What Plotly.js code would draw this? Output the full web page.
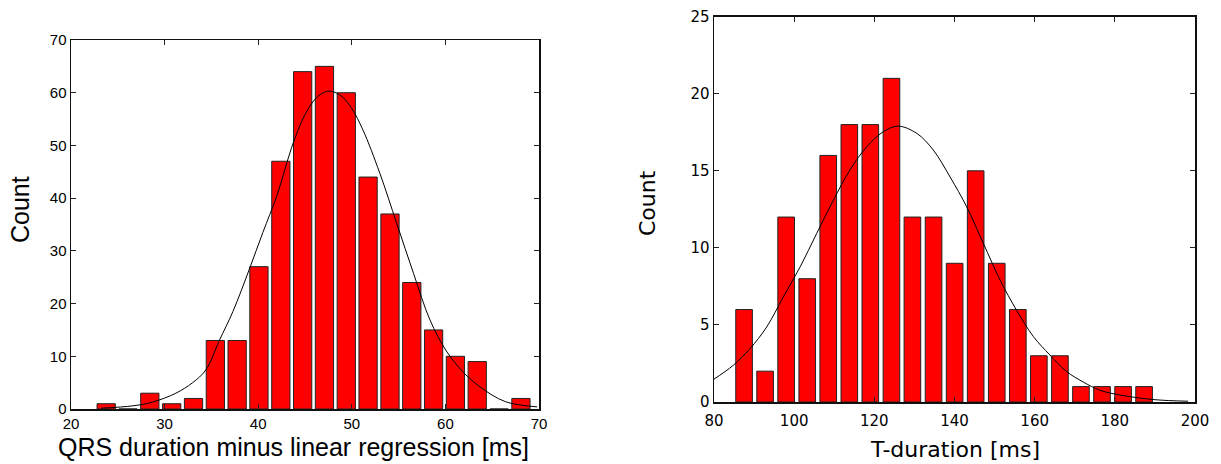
<!DOCTYPE html>
<html>
<head>
<meta charset="utf-8">
<script src="https://cdn.plot.ly/plotly-3.0.1.min.js"></script>
<style>
  html, body { margin: 0; padding: 0; background: #ffffff; }
  #chart { width: 1221px; height: 464px; }
</style>
</head>
<body>
<div id="chart"></div>
<script>
// ---- Left panel: QRS duration minus linear regression ----
const qrsBinCenters = [23.76, 26.09, 28.42, 30.76, 33.09, 35.42, 37.75, 40.08, 42.42, 44.75,
                       47.08, 49.41, 51.74, 54.08, 56.41, 58.74, 61.07, 63.40, 65.74, 68.07];
const qrsCounts = [1, 0, 3, 1, 2, 13, 13, 27, 47, 64, 65, 60, 44, 37, 24, 15, 10, 9, 0, 2];
const qrsFitX = [23.2, 26.6, 28.7, 31.2, 33.0, 34.4, 35.85, 37.3, 39.05, 40.5, 42.0, 43.75, 45.2,
                 46.5, 47.7, 49.0, 50.0, 51.2, 53.0, 54.8, 56.6, 58.35, 60.1, 61.9, 63.7, 66.4, 69.8];
const qrsFitY = [0.15, 0.6, 1.3, 3.0, 5.0, 7.4, 13.0, 18.5, 26.5, 33.5, 40.5, 50.5, 56.5,
                 59.5, 60.3, 59.2, 57.0, 52.9, 44.7, 35.2, 25.7, 16.9, 11.0, 7.0, 4.2, 1.4, 0.4];
const qrsXTitle = "QRS duration minus linear regression [ms]";

// ---- Right panel: T-duration ----
const tBinCenters = [87.5, 92.75, 98.0, 103.26, 108.5, 113.76, 119.0, 124.27, 129.5, 134.78,
                     140.03, 145.28, 150.54, 155.8, 161.04, 166.3, 171.55, 176.8, 182.06, 187.3];
const tCounts = [6, 2, 12, 8, 16, 18, 18, 21, 12, 12, 9, 15, 9, 6, 3, 3, 1, 1, 1, 1];
const tFitX = [79.8, 84.8, 89.0, 93.15, 97.3, 101.5, 105.6, 109.8, 113.9, 118.1, 122.2, 125.9,
               130.6, 134.7, 138.9, 143.05, 147.2, 151.4, 155.5, 159.7, 163.8, 168.0, 172.1,
               176.3, 181.8, 190.0, 198.3];
const tFitY = [1.45, 2.38, 3.47, 4.87, 6.82, 8.77, 10.93, 13.1, 15.05, 16.56, 17.53, 17.9,
               17.43, 16.35, 14.6, 12.66, 10.29, 7.9, 5.95, 4.24, 3.05, 1.97, 1.3,
               0.76, 0.43, 0.15, 0.05];
const tXTitle = "T-duration [ms]";
const yTitle = "Count";

const W = 1221, H = 464;
const fx = px => px / W;
const fy = py => 1 - py / H;

const barStyle = { color: '#ff0000', line: { color: '#222222', width: 1 } };

const traces = [
  { type: 'bar', x: qrsBinCenters, y: qrsCounts, width: 1.95, marker: barStyle,
    xaxis: 'x', yaxis: 'y', hoverinfo: 'skip' },
  { type: 'scatter', mode: 'lines', x: qrsFitX, y: qrsFitY,
    line: { color: '#000000', width: 1, shape: 'spline' }, xaxis: 'x', yaxis: 'y', hoverinfo: 'skip' },
  { type: 'bar', x: tBinCenters, y: tCounts, width: 4.15, marker: barStyle,
    xaxis: 'x2', yaxis: 'y2', hoverinfo: 'skip' },
  { type: 'scatter', mode: 'lines', x: tFitX, y: tFitY,
    line: { color: '#000000', width: 1, shape: 'spline' }, xaxis: 'x2', yaxis: 'y2', hoverinfo: 'skip' }
];

const leftFont = { family: 'Liberation Sans, Arial, sans-serif', size: 15, color: '#000' };
const rightFont = { family: 'DejaVu Sans, Verdana, sans-serif', size: 15, color: '#000' };

function axisBase(font) {
  return {
    showgrid: false, zeroline: false, showline: true, linecolor: '#111', linewidth: 1.5,
    mirror: 'ticks', ticks: 'inside', ticklen: 5, tickwidth: 1, tickcolor: '#222',
    tickfont: font, fixedrange: true
  };
}

const layout = {
  width: W, height: H,
  margin: { l: 0, r: 0, t: 0, b: 0 },
  paper_bgcolor: '#ffffff', plot_bgcolor: '#ffffff',
  showlegend: false,
  bargap: 0,
  xaxis: Object.assign(axisBase(leftFont), {
    domain: [fx(71), fx(539)], range: [20, 70], dtick: 10, tick0: 20, anchor: 'y'
  }),
  yaxis: Object.assign(axisBase(leftFont), {
    domain: [fy(409), fy(40)], range: [0, 70], dtick: 10, tick0: 0, anchor: 'x'
  }),
  xaxis2: Object.assign(axisBase(rightFont), {
    domain: [fx(714), fx(1195)], range: [80, 200], dtick: 20, tick0: 80, anchor: 'y2',
    ticklabelstandoff: 4
  }),
  yaxis2: Object.assign(axisBase(rightFont), {
    domain: [fy(402), fy(16.7)], range: [0, 25], dtick: 5, tick0: 0, anchor: 'x2'
  }),
  annotations: [
    { text: qrsXTitle, xref: 'paper', yref: 'paper', x: fx(293), y: fy(447),
      xanchor: 'center', yanchor: 'middle', showarrow: false,
      font: { family: 'Liberation Sans, Arial, sans-serif', size: 25, color: '#000' } },
    { text: yTitle, xref: 'paper', yref: 'paper', x: fx(20), y: fy(210),
      xanchor: 'center', yanchor: 'middle', showarrow: false, textangle: -90,
      font: { family: 'Liberation Sans, Arial, sans-serif', size: 25, color: '#000' } },
    { text: tXTitle, xref: 'paper', yref: 'paper', x: fx(955), y: fy(449),
      xanchor: 'center', yanchor: 'middle', showarrow: false,
      font: { family: 'DejaVu Sans, Verdana, sans-serif', size: 22, color: '#000' } },
    { text: yTitle, xref: 'paper', yref: 'paper', x: fx(647), y: fy(203),
      xanchor: 'center', yanchor: 'middle', showarrow: false, textangle: -90,
      font: { family: 'DejaVu Sans, Verdana, sans-serif', size: 22, color: '#000' } }
  ]
};

Plotly.newPlot('chart', traces, layout, { staticPlot: true, displayModeBar: false });
</script>
</body>
</html>
